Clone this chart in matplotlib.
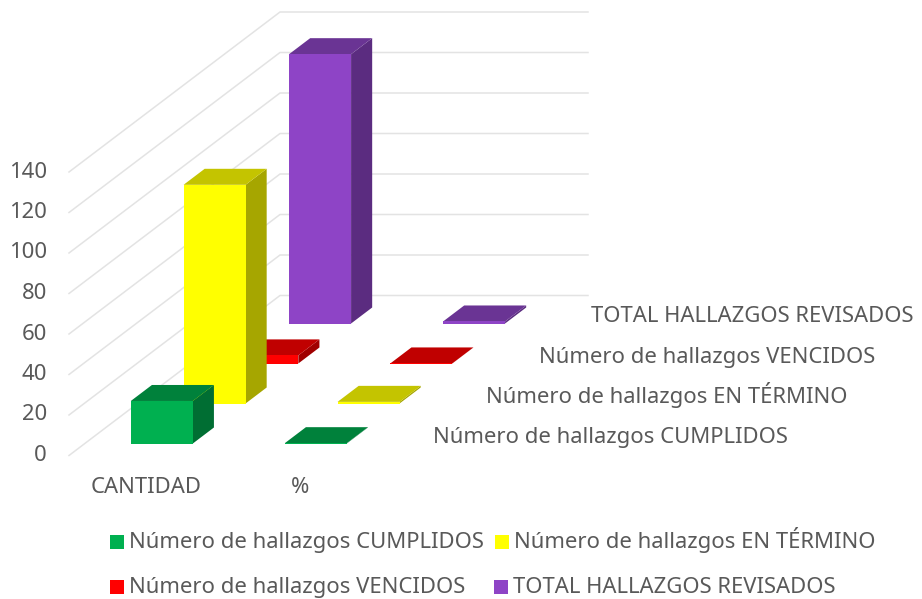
import matplotlib
matplotlib.use('Agg')
import matplotlib.pyplot as plt
from matplotlib.patches import Polygon, Rectangle

plt.rcParams['font.family'] = ['Noto Sans', 'DejaVu Sans']

categories = ['CANTIDAD', '%']
series = ['Número de hallazgos CUMPLIDOS', 'Número de hallazgos EN TÉRMINO',
          'Número de hallazgos VENCIDOS', 'TOTAL HALLAZGOS REVISADOS']
cantidad = [21, 108, 4, 133]
porcentaje = [0.16, 0.81, 0.03, 1.0]
yticks = [0, 20, 40, 60, 80, 100, 120, 140]

front = ['#00B050', '#FFFF00', '#FF0000', '#8E44C6']
top = ['#00813B', '#C4C400', '#C00000', '#6A3494']
side = ['#006E33', '#A6A600', '#A00000', '#5B2C80']
grey = '#595959'
grid = '#E3E3E3'
fs = 15.9

# oblique projection of the excel 3d chart, (category, series depth, value) -> pixels
X0, Y0 = 69, 455.5
CAT_W, DEPTH_X, DEPTH_Y, UNIT = 154, 52.75, 40, 2.025


def proj(c, s, v):
    return (X0 + CAT_W * c + DEPTH_X * s, Y0 - DEPTH_Y * s - UNIT * v)


def bar(ax, c, s, v, i):
    c0, c1 = c + 0.2987, c + 0.7013
    s0, s1 = s + 0.3, s + 0.7
    ax.add_patch(Polygon([proj(c1, s0, 0), proj(c1, s1, 0), proj(c1, s1, v), proj(c1, s0, v)], fc=side[i], lw=0))
    ax.add_patch(Polygon([proj(c0, s0, v), proj(c1, s0, v), proj(c1, s1, v), proj(c0, s1, v)], fc=top[i], lw=0))
    ax.add_patch(Polygon([proj(c0, s0, 0), proj(c1, s0, 0), proj(c1, s0, v), proj(c0, s0, v)], fc=front[i], lw=0))


fig = plt.figure(figsize=(9.22, 5.99), dpi=100)
ax = fig.add_axes([0, 0, 1, 1])
ax.set_xlim(0, 922)
ax.set_ylim(599, 0)
ax.axis('off')

n = len(series)
for t in yticks:
    a, b, d = proj(0, 0, t), proj(0, n, t), proj(len(categories), n, t)
    ax.plot([a[0], b[0], d[0]], [a[1], b[1], d[1]], color=grid, lw=1.1, zorder=0)
    ax.text(47, a[1] + 5.5, str(t), ha='right', va='baseline', color=grey, fontsize=fs)

# back to front so the nearer bars hide the others
for s in range(n - 1, -1, -1):
    bar(ax, 0, s, cantidad[s], s)
    bar(ax, 1, s, porcentaje[s], s)

ax.text(146, 492.7, categories[0], ha='center', va='baseline', color=grey, fontsize=fs)
ax.text(300, 492.7, categories[1], ha='center', va='baseline', color=grey, fontsize=fs)

for s, name in enumerate(series):
    x, y = proj(len(categories), s, 0)
    ax.text(x + 56, y - 13, name, ha='left', va='baseline', color=grey, fontsize=fs)

legend_pos = [(110, 542), (495, 542), (110, 587), (494, 587)]
for (x, y), name, color in zip(legend_pos, series, front):
    ax.add_patch(Rectangle((x, y - 7), 14, 14, fc=color, lw=0))
    ax.text(x + 19, y + 5.6, name, ha='left', va='baseline', color=grey, fontsize=fs)

fig.savefig('out.png', dpi=100)
